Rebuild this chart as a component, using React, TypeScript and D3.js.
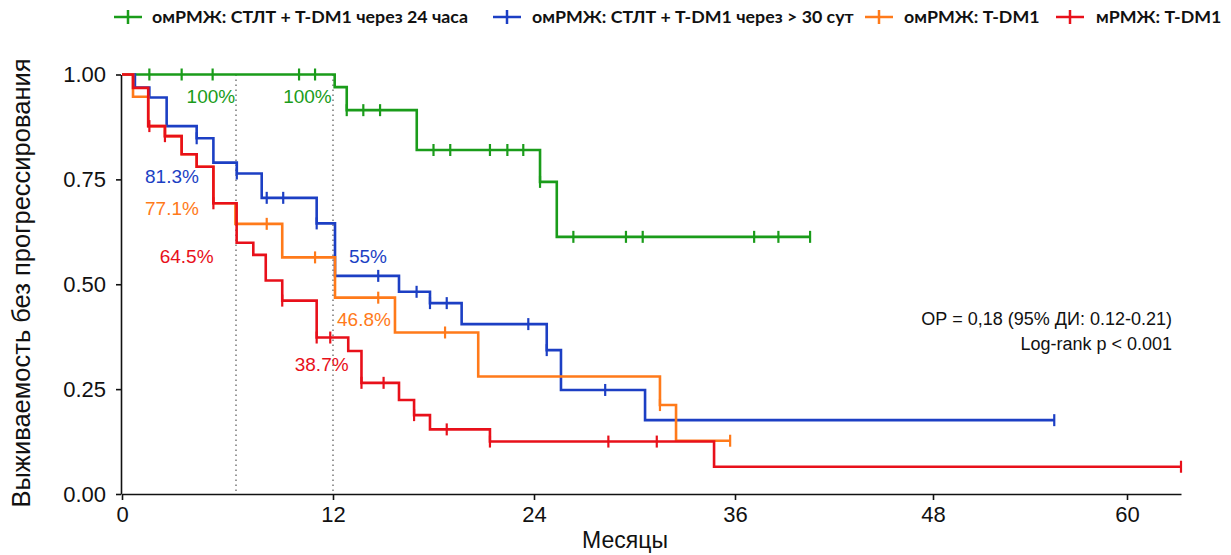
import React, { useEffect, useRef } from 'react';
import * as d3 from 'd3';

const width = 1231;
const height = 555;

// ось времени (месяцы); картинка растянута неравномерно, поэтому шкала кусочно-линейная
const xKnots = [0, 6, 12, 24, 36, 48, 60, 63.3];
const xPixels = [122, 236, 333, 534, 735, 933, 1127, 1181];
const xTicks = [0, 12, 24, 36, 48, 60];
const yTicks = [0, 0.25, 0.5, 0.75, 1];
const landmarks = [6, 12];

const legendLabels = [
  'омРМЖ: СТЛТ + Т-DM1 через 24 часа',
  'омРМЖ: СТЛТ + Т-DM1 через > 30 сут',
  'омРМЖ: Т-DM1',
  'мРМЖ: Т-DM1',
];
const colors = ['#1a9c1a', '#1c3fc4', '#ff7a1a', '#e8101a'];

// СТЛТ + T-DM1 через 24 часа
const greenTimes = [12.1, 12.82, 17.0, 24.36, 25.36];
const greenSurv = [0.970, 0.915, 0.820, 0.744, 0.613];
const greenCensor = [1.44, 3.14, 4.77, 9.9, 10.89, 12.82, 13.81, 14.81, 18.0, 19.0, 21.37, 22.41, 23.36, 24.36, 26.35, 29.49, 30.49, 37.16, 38.63, 40.55];

// СТЛТ + T-DM1 через > 30 сут
const blueTimes = [0.68, 1.44, 2.35, 3.93, 4.81, 6.05, 7.59, 10.99, 12.12, 15.94, 17.79, 19.68, 24.76, 25.61, 30.63];
const blueSurv = [0.969, 0.945, 0.877, 0.848, 0.790, 0.764, 0.706, 0.645, 0.520, 0.482, 0.455, 0.405, 0.343, 0.248, 0.176];
const blueCensor = [3.93, 6.05, 7.9, 8.92, 10.99, 14.7, 16.99, 17.79, 18.79, 23.66, 24.76, 28.25, 55.5];

// омРМЖ: T-DM1
const orangeTimes = [0.58, 1.38, 2.26, 3.14, 3.93, 4.81, 5.97, 8.86, 12.12, 15.7, 20.67, 31.52, 32.48];
const orangeSurv = [0.947, 0.877, 0.853, 0.810, 0.780, 0.693, 0.644, 0.564, 0.468, 0.385, 0.280, 0.212, 0.127];
const orangeCensor = [7.9, 10.89, 14.7, 18.69, 31.52, 35.71];

// мРМЖ: T-DM1
const redTimes = [0.58, 1.38, 2.26, 3.14, 3.93, 4.81, 6.04, 7.07, 7.84, 8.86, 10.99, 12.91, 13.7, 15.94, 16.84, 17.79, 21.37, 34.75];
const redSurv = [0.968, 0.877, 0.853, 0.810, 0.780, 0.693, 0.599, 0.570, 0.509, 0.461, 0.373, 0.341, 0.265, 0.224, 0.188, 0.154, 0.125, 0.065];
const redCensor = [1.44, 2.26, 4.81, 8.86, 10.99, 11.83, 13.7, 15.02, 16.84, 18.79, 21.37, 28.44, 31.33, 63.3];

// подписи процентов (месяц, выживаемость, серия)
const noteTexts = ['100%', '100%', '81.3%', '77.1%', '64.5%', '55%', '46.8%', '38.7%'];
const noteTimes = [4.68, 10.42, 2.63, 2.63, 3.4, 14.09, 13.85, 11.3];
const noteSurv = [0.932, 0.932, 0.741, 0.665, 0.55, 0.55, 0.401, 0.293];
const noteSeries = [0, 0, 1, 2, 3, 1, 2, 3];

const statLines = ['ОР = 0,18 (95% ДИ: 0.12-0.21)', 'Log-rank p < 0.001'];

const legendMarkX = [128, 507, 879, 1070];
const legendTextX = [152, 532, 904, 1096];

const numFont = "'Liberation Sans', Arial, sans-serif";
const legendFont = "'Lato', 'Open Sans', sans-serif";

const series = [
  { times: greenTimes, surv: greenSurv, censor: greenCensor },
  { times: blueTimes, surv: blueSurv, censor: blueCensor },
  { times: orangeTimes, surv: orangeSurv, censor: orangeCensor },
  { times: redTimes, surv: redSurv, censor: redCensor },
].map((s, i) => {
  const end = Math.max(d3.max(s.censor) as number, d3.max(s.times) as number);
  const pts: [number, number][] = [[0, 1], ...s.times.map((t, j) => [t, s.surv[j]] as [number, number]), [end, s.surv[s.surv.length - 1]]];
  const survAt = (t: number) => {
    let v = 1;
    s.times.forEach((tt, j) => { if (tt <= t + 1e-9) v = s.surv[j]; });
    return v;
  };
  return { ...s, pts, survAt, color: colors[i], label: legendLabels[i] };
});

export default function App() {
  const xAxisRef = useRef<SVGGElement>(null);
  const yAxisRef = useRef<SVGGElement>(null);

  const x = d3.scaleLinear().domain(xKnots).range(xPixels);
  const y = d3.scaleLinear().domain([0, 1]).range([494, 74.5]);

  const line = d3.line<[number, number]>()
    .x(d => x(d[0]))
    .y(d => y(d[1]))
    .curve(d3.curveStepAfter);

  useEffect(() => {
    const xAxis = d3.axisBottom(x).tickValues(xTicks).tickSize(6).tickSizeOuter(0).tickPadding(6).tickFormat(d3.format('d'));
    const yAxis = d3.axisLeft(y).tickValues(yTicks).tickSize(5).tickSizeOuter(0).tickPadding(10).tickFormat(d3.format('.2f'));
    const gx = d3.select(xAxisRef.current!).call(xAxis as any);
    const gy = d3.select(yAxisRef.current!).call(yAxis as any);
    [gx, gy].forEach(g => {
      g.attr('font-family', null).attr('font-size', null);
      g.selectAll('path, line').attr('stroke', '#111').attr('stroke-width', 1.6);
      g.selectAll('text').attr('font-family', numFont).attr('font-size', 22).attr('fill', '#111');
    });
  }, []);

  return (
    <svg width={width} height={height} style={{ position: 'absolute', left: 0, top: 0, background: '#fff' }}>
      {/* легенда */}
      {series.map((s, i) => (
        <g key={'lg' + i}>
          <line x1={legendMarkX[i] - 14} x2={legendMarkX[i] + 14} y1={17} y2={17} stroke={s.color} strokeWidth={2.5} />
          <line x1={legendMarkX[i]} x2={legendMarkX[i]} y1={10} y2={24} stroke={s.color} strokeWidth={2.5} />
          <text x={legendTextX[i]} y={23} fontFamily={legendFont} fontWeight={700} fontSize={17.8} fill="#111">{s.label}</text>
        </g>
      ))}

      {/* ориентиры 6 и 12 мес */}
      {landmarks.map(m => (
        <line key={'lm' + m} x1={x(m)} x2={x(m)} y1={y(1)} y2={y(0)} stroke="#777" strokeWidth={1.5} strokeDasharray="1.5 3.5" />
      ))}

      <g ref={xAxisRef} transform={`translate(0, ${y(0)})`} />
      <g ref={yAxisRef} transform={`translate(${x(0) - 1}, 0)`} />

      {series.map((s, i) => (
        <g key={'s' + i}>
          <path d={line(s.pts) as string} fill="none" stroke={s.color} strokeWidth={2.6} />
          {s.censor.map((c, j) => (
            <line key={j} x1={x(c)} x2={x(c)} y1={y(s.survAt(c)) - 6} y2={y(s.survAt(c)) + 6} stroke={s.color} strokeWidth={2.2} />
          ))}
        </g>
      ))}

      {noteTexts.map((t, i) => (
        <text key={'n' + i} x={x(noteTimes[i])} y={y(noteSurv[i])} textAnchor="middle" fontFamily={numFont} fontSize={19} fill={colors[noteSeries[i]]}>{t}</text>
      ))}

      {statLines.map((t, i) => (
        <text key={'st' + i} x={1172} y={325 + i * 25} textAnchor="end" fontFamily={numFont} fontSize={18} fill="#111">{t}</text>
      ))}

      <text x={625} y={548} textAnchor="middle" fontFamily={numFont} fontSize={23} fill="#111">Месяцы</text>
      <text transform={`translate(30, ${283}) rotate(-90)`} textAnchor="middle" fontFamily={numFont} fontSize={25.5} fill="#111">Выживаемость без прогрессирования</text>
    </svg>
  );
}
